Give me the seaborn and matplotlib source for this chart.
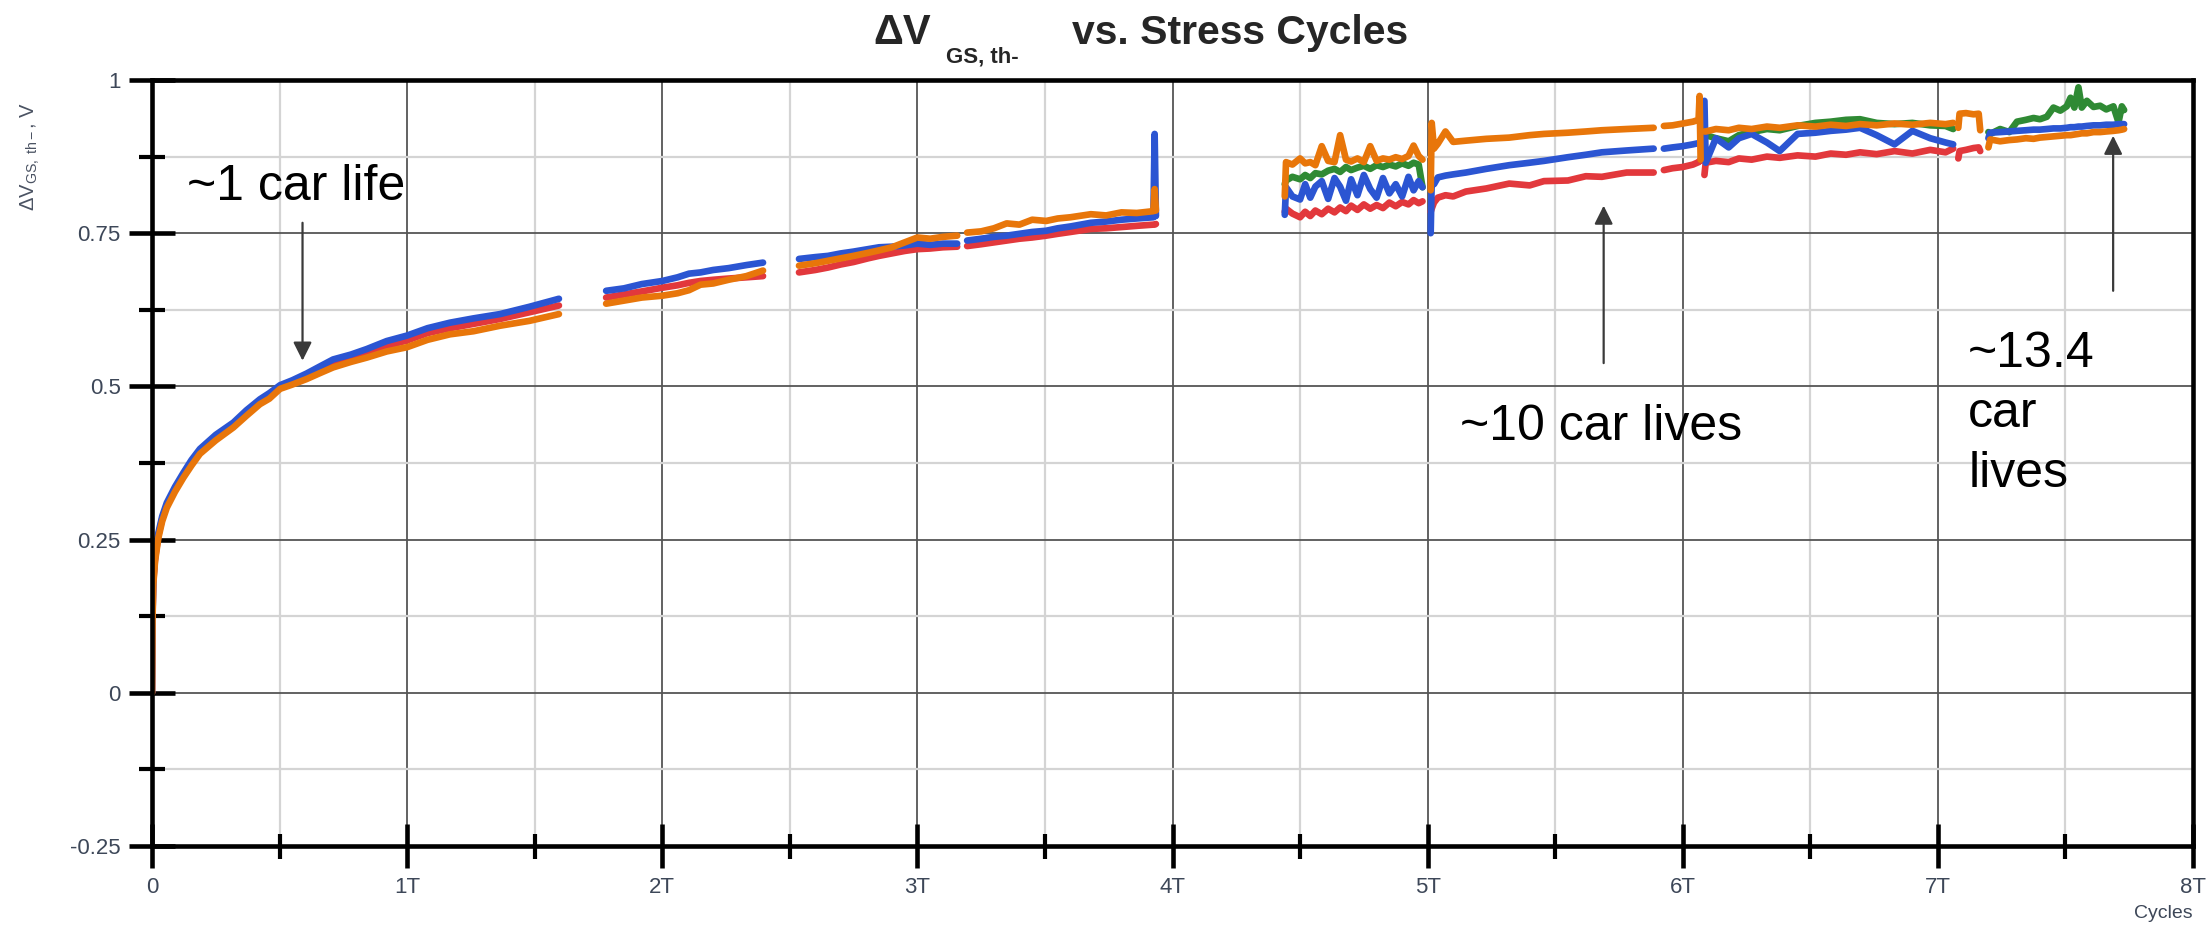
import matplotlib
matplotlib.use("Agg")
import matplotlib.pyplot as plt
from matplotlib import font_manager as fm
import pandas as pd
import seaborn as sns

# ---------------- data (x in units of T cycles, y in V) ----------------
SEG1_X = [0.0, 0.002, 0.005, 0.012, 0.025, 0.04, 0.058, 0.09, 0.123, 0.155, 0.188, 0.25, 0.319, 0.37,
          0.423, 0.46, 0.502, 0.55, 0.606, 0.66, 0.71, 0.78, 0.842, 0.92, 1.0, 1.08, 1.168, 1.26, 1.364,
          1.48, 1.595]
SEG1_ORANGE = [0.0, 0.12, 0.177, 0.215, 0.253, 0.28, 0.302, 0.328, 0.351, 0.371, 0.39, 0.412, 0.433, 0.452,
               0.471, 0.48, 0.496, 0.503, 0.512, 0.522, 0.531, 0.54, 0.547, 0.557, 0.564, 0.576, 0.585, 0.59,
               0.599, 0.607, 0.618]
SEG1_BLUE = [0.0, 0.13, 0.186, 0.223, 0.261, 0.288, 0.31, 0.336, 0.359, 0.38, 0.398, 0.421, 0.441, 0.461,
             0.479, 0.489, 0.502, 0.51, 0.521, 0.533, 0.544, 0.552, 0.561, 0.574, 0.583, 0.595, 0.604, 0.611,
             0.618, 0.63, 0.643]
SEG1_RED = [0.0, 0.125, 0.181, 0.219, 0.257, 0.284, 0.306, 0.332, 0.355, 0.375, 0.394, 0.416, 0.437, 0.456,
            0.475, 0.485, 0.499, 0.507, 0.517, 0.528, 0.538, 0.546, 0.554, 0.566, 0.575, 0.587, 0.595, 0.602,
            0.61, 0.621, 0.632]

SEG2_X = [1.78, 1.85, 1.92, 2.0, 2.06, 2.105, 2.15, 2.2, 2.26, 2.33, 2.395]
SEG2_BLUE = [0.656, 0.66, 0.667, 0.672, 0.678, 0.684, 0.686, 0.69, 0.693, 0.698, 0.702]
SEG2_ORANGE = [0.635, 0.64, 0.645, 0.648, 0.652, 0.657, 0.666, 0.668, 0.674, 0.68, 0.689]
SEG2_RED = [0.645, 0.65, 0.655, 0.661, 0.665, 0.669, 0.672, 0.674, 0.676, 0.678, 0.68]

SEG3_X = [2.536, 2.6, 2.65, 2.7, 2.75, 2.807, 2.85, 2.9, 2.95, 3.0, 3.05, 3.1, 3.156]
SEG3_BLUE = [0.708, 0.711, 0.713, 0.717, 0.72, 0.724, 0.727, 0.728, 0.73, 0.733, 0.731, 0.733, 0.733]
SEG3_ORANGE = [0.697, 0.701, 0.705, 0.709, 0.713, 0.718, 0.722, 0.727, 0.735, 0.743, 0.741, 0.744, 0.746]
SEG3_RED = [0.686, 0.69, 0.694, 0.699, 0.703, 0.709, 0.713, 0.717, 0.721, 0.724, 0.725, 0.727, 0.728]

SEG4_X = [3.195, 3.25, 3.3, 3.35, 3.4, 3.45, 3.505, 3.55, 3.6, 3.68, 3.74, 3.8, 3.86, 3.925, 3.93, 3.935]
SEG4_BLUE = [0.738, 0.741, 0.744, 0.746, 0.749, 0.752, 0.754, 0.758, 0.761, 0.767, 0.769, 0.772, 0.774,
             0.776, 0.912, 0.778]
SEG4_ORANGE = [0.751, 0.753, 0.758, 0.766, 0.764, 0.772, 0.77, 0.774, 0.776, 0.781, 0.779, 0.784, 0.783,
               0.786, 0.822, 0.787]
SEG4_RED = [0.729, 0.732, 0.735, 0.738, 0.741, 0.743, 0.746, 0.749, 0.752, 0.757, 0.758, 0.76, 0.762,
            0.764, 0.764, 0.765]

SEG5_X = [4.44, 4.445, 4.47, 4.50, 4.52, 4.54, 4.56, 4.585, 4.61, 4.635, 4.657, 4.68, 4.70, 4.725, 4.75,
          4.775, 4.80, 4.825, 4.85, 4.875, 4.90, 4.925, 4.945, 4.965, 4.98]
SEG5_ORANGE = [0.81, 0.866, 0.862, 0.872, 0.864, 0.866, 0.861, 0.892, 0.868, 0.866, 0.91, 0.87, 0.867,
               0.872, 0.866, 0.892, 0.868, 0.872, 0.87, 0.874, 0.871, 0.876, 0.893, 0.876, 0.87]
SEG5_GREEN = [0.83, 0.836, 0.842, 0.838, 0.845, 0.84, 0.848, 0.846, 0.852, 0.855, 0.85, 0.858, 0.853,
              0.857, 0.86, 0.855, 0.861, 0.858, 0.862, 0.859, 0.864, 0.86, 0.865, 0.862, 0.825]
SEG5_BLUE = [0.78, 0.825, 0.81, 0.805, 0.83, 0.808, 0.826, 0.835, 0.806, 0.84, 0.826, 0.803, 0.838, 0.812,
             0.845, 0.822, 0.808, 0.84, 0.815, 0.83, 0.81, 0.842, 0.82, 0.835, 0.825]
SEG5_RED = [0.785, 0.79, 0.782, 0.776, 0.785, 0.778, 0.787, 0.781, 0.79, 0.784, 0.792, 0.786, 0.795, 0.788,
            0.797, 0.79, 0.796, 0.791, 0.8, 0.794, 0.801, 0.797, 0.804, 0.799, 0.802]

SEG6_X = [5.012, 5.016, 5.025, 5.04, 5.07, 5.1, 5.15, 5.23, 5.32, 5.40, 5.456, 5.55, 5.62, 5.683, 5.78, 5.886]
SEG6_ORANGE = [0.82, 0.93, 0.888, 0.896, 0.916, 0.899, 0.901, 0.904, 0.906, 0.91, 0.912, 0.914, 0.916,
               0.918, 0.92, 0.922]
SEG6_BLUE = [0.75, 0.835, 0.83, 0.841, 0.844, 0.846, 0.849, 0.855, 0.861, 0.865, 0.868, 0.874, 0.878,
             0.882, 0.885, 0.888]
SEG6_RED = [0.785, 0.79, 0.8, 0.808, 0.812, 0.81, 0.818, 0.823, 0.831, 0.828, 0.835, 0.836, 0.843, 0.842,
            0.849, 0.849]

SEG7_X = [5.926, 5.96, 6.0, 6.04, 6.062, 6.066, 6.07]
SEG7_ORANGE = [0.925, 0.926, 0.929, 0.932, 0.935, 0.974, 0.87]
SEG7_BLUE = [0.888, 0.89, 0.892, 0.895, 0.897, 0.898, 0.898]
SEG7_RED = [0.853, 0.856, 0.858, 0.862, 0.866, 0.868, 0.868]

SEG8_X = [6.085, 6.09, 6.13, 6.18, 6.22, 6.27, 6.33, 6.38, 6.45, 6.52, 6.58, 6.64, 6.695, 6.76, 6.83,
          6.9, 6.97, 7.03, 7.06]
SEG8_BLUE = [0.966, 0.865, 0.905, 0.89, 0.905, 0.912, 0.898, 0.884, 0.912, 0.914, 0.917, 0.919, 0.922,
             0.91, 0.895, 0.917, 0.905, 0.898, 0.895]
SEG8_ORANGE = [0.916, 0.916, 0.92, 0.918, 0.922, 0.92, 0.924, 0.922, 0.926, 0.924, 0.927, 0.925, 0.928,
               0.926, 0.929, 0.927, 0.93, 0.928, 0.93]
SEG8_GREEN = [0.91, 0.91, 0.905, 0.9, 0.91, 0.915, 0.92, 0.918, 0.925, 0.93, 0.932, 0.935, 0.936, 0.93,
              0.928, 0.93, 0.926, 0.925, 0.92]
SEG8_RED = [0.845, 0.865, 0.868, 0.866, 0.872, 0.87, 0.875, 0.873, 0.877, 0.875, 0.88, 0.878, 0.882,
            0.879, 0.884, 0.88, 0.886, 0.882, 0.888]

SEG9_X = [7.08, 7.085, 7.11, 7.14, 7.16, 7.166]
SEG9_ORANGE = [0.922, 0.945, 0.946, 0.944, 0.945, 0.918]
SEG9_RED = [0.872, 0.884, 0.886, 0.889, 0.89, 0.884]

SEG10_X = [7.198, 7.205, 7.244, 7.28, 7.31, 7.345, 7.375, 7.40, 7.427, 7.453, 7.48, 7.505, 7.52, 7.535,
           7.551, 7.564, 7.584, 7.61, 7.636, 7.66, 7.688, 7.708, 7.721, 7.73]
SEG10_GREEN = [0.915, 0.912, 0.92, 0.915, 0.932, 0.935, 0.938, 0.936, 0.94, 0.955, 0.95, 0.957, 0.971,
               0.955, 0.988, 0.955, 0.966, 0.956, 0.958, 0.952, 0.957, 0.931, 0.957, 0.951]
SEG10_BLUE = [0.905, 0.914, 0.915, 0.916, 0.917, 0.918, 0.919, 0.919, 0.92, 0.921, 0.921, 0.922, 0.923,
              0.923, 0.924, 0.924, 0.925, 0.926, 0.926, 0.927, 0.927, 0.928, 0.928, 0.928]
SEG10_ORANGE = [0.89, 0.903, 0.9, 0.902, 0.903, 0.905, 0.904, 0.906, 0.907, 0.908, 0.909, 0.91, 0.91,
                0.911, 0.912, 0.913, 0.913, 0.915, 0.915, 0.916, 0.917, 0.918, 0.919, 0.92]

X_TICKS = [0, 1, 2, 3, 4, 5, 6, 7, 8]
X_TICK_LABELS = ["0", "1T", "2T", "3T", "4T", "5T", "6T", "7T", "8T"]
Y_TICKS = [-0.25, 0, 0.25, 0.5, 0.75, 1]
Y_TICK_LABELS = ["-0.25", "0", "0.25", "0.5", "0.75", "1"]

SERIES_ORDER = ["red", "green", "blue", "orange"]   # drawing order
PALETTE = {"red": "#e2383c", "green": "#2f8a34", "blue": "#2b55d2", "orange": "#e8760a"}

SEGMENTS = [
    (SEG1_X, {"red": SEG1_RED, "blue": SEG1_BLUE, "orange": SEG1_ORANGE}),
    (SEG2_X, {"red": SEG2_RED, "blue": SEG2_BLUE, "orange": SEG2_ORANGE}),
    (SEG3_X, {"red": SEG3_RED, "blue": SEG3_BLUE, "orange": SEG3_ORANGE}),
    (SEG4_X, {"red": SEG4_RED, "blue": SEG4_BLUE, "orange": SEG4_ORANGE}),
    (SEG5_X, {"red": SEG5_RED, "green": SEG5_GREEN, "blue": SEG5_BLUE, "orange": SEG5_ORANGE}),
    (SEG6_X, {"red": SEG6_RED, "blue": SEG6_BLUE, "orange": SEG6_ORANGE}),
    (SEG7_X, {"red": SEG7_RED, "blue": SEG7_BLUE, "orange": SEG7_ORANGE}),
    (SEG8_X, {"red": SEG8_RED, "green": SEG8_GREEN, "blue": SEG8_BLUE, "orange": SEG8_ORANGE}),
    (SEG9_X, {"red": SEG9_RED, "orange": SEG9_ORANGE}),
    (SEG10_X, {"green": SEG10_GREEN, "blue": SEG10_BLUE, "orange": SEG10_ORANGE}),
]

rows = []
for seg_id, (xs, by_series) in enumerate(SEGMENTS):
    for name, ys in by_series.items():
        for x, y in zip(xs, ys):
            rows.append({"series": name, "segment": seg_id, "x": x, "y": y})
df = pd.DataFrame(rows)

# ---------------- style ----------------
sns.set_style("white")
names = {f.name for f in fm.fontManager.ttflist}
BASE = "Liberation Sans" if "Liberation Sans" in names else "DejaVu Sans"
plt.rcParams["font.family"] = [BASE, "DejaVu Sans"]
plt.rcParams["mathtext.fontset"] = "custom"
plt.rcParams["mathtext.rm"] = BASE
plt.rcParams["mathtext.it"] = BASE + ":italic"
plt.rcParams["mathtext.bf"] = BASE + ":bold"
plt.rcParams["mathtext.sf"] = BASE

W, H = 2207, 925
fig = plt.figure(figsize=(W / 100, H / 100), dpi=100)
ax = fig.add_axes([152 / W, 1 - 846 / H, (2193 - 152) / W, (846 - 80) / H])

sns.lineplot(data=df, x="x", y="y", hue="series", units="segment", estimator=None,
             hue_order=SERIES_ORDER, palette=PALETTE, sort=False, legend=False,
             linewidth=4.8, ax=ax)

ax.set_xlim(0, 8)
ax.set_ylim(-0.25, 1)
ax.set_xticks(X_TICKS)
ax.set_xticklabels(X_TICK_LABELS)
ax.set_xticks([0.5 + i for i in range(8)], minor=True)
ax.set_yticks(Y_TICKS)
ax.set_yticklabels(Y_TICK_LABELS)
ax.set_yticks([-0.125, 0.125, 0.375, 0.625, 0.875], minor=True)

ax.set_axisbelow(True)
ax.grid(which="major", color="#555555", linewidth=1.3)
ax.grid(which="minor", color="#d4d4d4", linewidth=1.6)

for s in ax.spines.values():
    s.set_visible(True)
    s.set_linewidth(3.3)
    s.set_color("black")

TICK_COLOR = "#3d4758"
ax.tick_params(which="both", bottom=True, left=True, top=False, right=False)
ax.tick_params(axis="x", which="major", direction="inout", length=32, width=3.3, color="black",
               labelsize=16, labelcolor=TICK_COLOR, pad=6)
ax.tick_params(axis="x", which="minor", direction="inout", length=18, width=3.0, color="black")
ax.tick_params(axis="y", which="major", direction="inout", length=33, width=3.3, color="black",
               labelsize=16, labelcolor=TICK_COLOR, pad=6)
ax.tick_params(axis="y", which="minor", direction="inout", length=19, width=3.0, color="black")

ax.set_xlabel("Cycles", loc="right", fontsize=14, color=TICK_COLOR, labelpad=5)
ax.set_ylabel("")

fig.text(30 / W, 1 - 156 / H, "ΔV$_{\\mathrm{GS,\\ th-}}$, V", rotation=90, ha="center", va="center",
         fontsize=14.5, color="#4a5262")

# title in three pieces
fig.text(931 / W, 1 - 44 / H, "ΔV", ha="right", va="baseline", fontsize=30, fontweight="bold")
fig.text(946 / W, 1 - 63 / H, "GS, th-", ha="left", va="baseline", fontsize=16, fontweight="bold")
fig.text(1072 / W, 1 - 44 / H, "vs. Stress Cycles", ha="left", va="baseline", fontsize=29.5,
         fontweight="bold")

# annotations
ANN = dict(fontsize=36, color="black", ha="left", va="baseline")
ax.text(0.137, 0.804, "~1 car life", **ANN)
ax.text(5.127, 0.413, "~10 car lives", **ANN)
ax.text(7.119, 0.532, "~13.4", **ANN)
ax.text(7.119, 0.433, "car", **ANN)
ax.text(7.119, 0.336, "lives", **ANN)

ARROW = dict(arrowstyle="-|>", mutation_scale=28, lw=1.6, color="#3a3a3a", shrinkA=0, shrinkB=0)
ax.annotate("", xy=(0.59, 0.542), xytext=(0.59, 0.767), arrowprops=ARROW)
ax.annotate("", xy=(5.69, 0.795), xytext=(5.69, 0.538), arrowprops=ARROW)
ax.annotate("", xy=(7.687, 0.909), xytext=(7.687, 0.656), arrowprops=ARROW)

fig.savefig("out.png", dpi=100)
